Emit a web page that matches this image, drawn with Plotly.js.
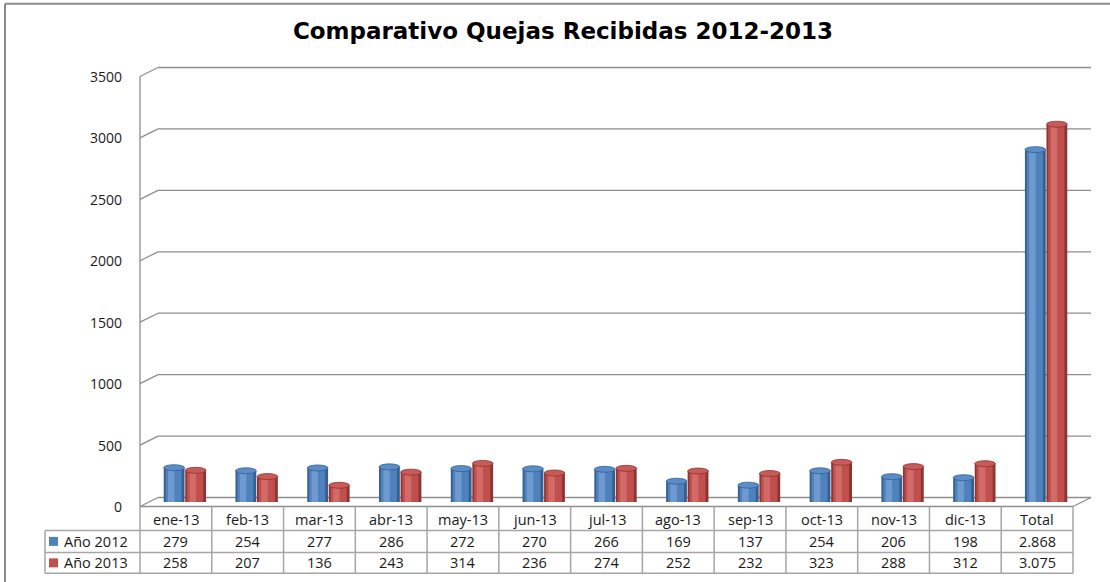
<!DOCTYPE html>
<html>
<head>
<meta charset="utf-8">
<script src="https://cdn.plot.ly/plotly-3.0.1.min.js"></script>
<style>
html,body{margin:0;padding:0;background:#fff;}
#chart{width:1110px;height:582px;}
</style>
</head>
<body>
<div id="chart"></div>
<script>
// ---- data ----
const categories = ["ene-13","feb-13","mar-13","abr-13","may-13","jun-13","jul-13","ago-13","sep-13","oct-13","nov-13","dic-13","Total"];
const seriesNames = ["Año 2012","Año 2013"];
const values2012 = [279,254,277,286,272,270,266,169,137,254,206,198,2868];
const values2013 = [258,207,136,243,314,236,274,252,232,323,288,312,3075];
const yTicks = [0,500,1000,1500,2000,2500,3000,3500];
const titleText = "Comparativo Quejas Recibidas 2012-2013";

// ---- geometry (pixels) ----
const W = 1110, H = 582;
const frontX0 = 140, frontX1 = 1073, front0 = 507, yMax = 3500, plotH = 431;
const dx = 18, dy = 9;
const colW = (frontX1 - frontX0) / categories.length;
const mL = frontX0 + dx/2, mR = W - (frontX1 + dx/2), mT = front0 - dy/2 - plotH, mB = H - (front0 - dy/2);
const areaW = W - mL - mR, areaH = H - mT - mB;
// pixel -> paper (paper is relative to the plot area)
const px = x => (x - mL) / areaW, py = y => (H - mB - y) / areaH;
const yFront = v => front0 - v * plotH / yMax;
const unitsPerPx = yMax / plotH;

const gridColor = "#8e8e8e", tableColor = "#a6a6a6";
const font = "Open Sans, sans-serif";

const colors = [
  {dark:"#355f8f", main:"#4f81bd", light:"#6f9ad0", cap:"#5a8cc8"},
  {dark:"#8e3432", main:"#c0504d", light:"#d26a67", cap:"#c85a57"}
];
const barW = 0.29;
const offsets = [-barW - 0.005, 0.005];
const allVals = [values2012, values2013];

const traces = [];
allVals.forEach((vals, s) => {
  const o = offsets[s];
  traces.push({type:"bar", x:categories, y:vals, name:seriesNames[s], offset:o, width:barW,
    marker:{color:colors[s].dark}, hoverinfo:"x+y+name"});
  traces.push({type:"bar", x:categories, y:vals, name:seriesNames[s], offset:o + 0.025, width:barW - 0.065,
    marker:{color:colors[s].main}, hoverinfo:"skip"});
  traces.push({type:"bar", x:categories, y:vals, name:seriesNames[s], offset:o + 0.06, width:0.09,
    marker:{color:colors[s].light}, hoverinfo:"skip"});
});

const shapes = [];
const line = (x0,y0,x1,y1,c,w,layer) => shapes.push({type:"line", xref:"paper", yref:"paper",
  x0:px(x0), y0:py(y0), x1:px(x1), y1:py(y1), line:{color:c, width:w}, layer:layer || "below"});

// frame
line(5, 3, W + 5, 3, "#8a8a8a", 2);
line(5, 3, 5, H + 5, "#8a8a8a", 2);

// gridlines on back wall with perspective connectors
yTicks.forEach(v => {
  const f = yFront(v), b = f - dy;
  line(frontX0, f, frontX0 + dx, b, gridColor, 1.3);
  line(frontX0 + dx, b, frontX1 + dx, b, gridColor, 1.3);
});
// front axis and floor edges
line(frontX0, yFront(yMax), frontX0, front0, gridColor, 1.3);
line(frontX0, front0, frontX1, front0, gridColor, 1.3);
line(frontX1, front0, frontX1 + dx, front0 - dy, gridColor, 1.3);

// cylinder caps (ellipses at each bar top, placed through the data axes)
const capH = 3 * unitsPerPx;
allVals.forEach((vals, s) => {
  vals.forEach((v, i) => {
    shapes.push({type:"circle", xref:"x", yref:"y", x0:i + offsets[s], x1:i + offsets[s] + barW,
      y0:v - capH, y1:v + capH, fillcolor:colors[s].cap, line:{color:colors[s].dark, width:0.8}, layer:"above"});
  });
});

// table
const rowTop = front0, r1 = 531, r2 = 553, r3 = 574, labelX0 = 45;
for (let i = 0; i <= categories.length; i++) {
  const x = frontX0 + i * colW;
  line(x, rowTop, x, r3, tableColor, 1.5, "above");
}
[r1, r2, r3].forEach(y => line(labelX0, y, frontX1, y, tableColor, 1.5, "above"));
line(labelX0, r1, labelX0, r3, tableColor, 1.5, "above");

const annotations = [];
const fmt = v => String(v).replace(/\B(?=(\d{3})+(?!\d))/g, ".");
const txtFont = {family:font, size:14.5, color:"#1a1a1a"};
const tickFont = {family:font, size:14, color:"#1a1a1a"};

// y-axis tick labels aligned with the front axis
yTicks.forEach(v => annotations.push({xref:"paper", yref:"paper", x:px(124), y:py(yFront(v)), text:String(v),
  showarrow:false, xanchor:"right", yanchor:"middle", font:tickFont}));

categories.forEach((c, i) => {
  const cx = frontX0 + (i + 0.5) * colW;
  annotations.push({xref:"paper", yref:"paper", x:px(cx), y:py((rowTop + r1) / 2 + 1), text:c, showarrow:false,
    xanchor:"center", yanchor:"middle", font:txtFont});
  allVals.forEach((vals, s) => {
    const yc = s === 0 ? (r1 + r2) / 2 : (r2 + r3) / 2;
    annotations.push({xref:"paper", yref:"paper", x:px(cx), y:py(yc), text:fmt(vals[i]), showarrow:false,
      xanchor:"center", yanchor:"middle", font:txtFont});
  });
});
seriesNames.forEach((n, s) => {
  const yc = s === 0 ? (r1 + r2) / 2 : (r2 + r3) / 2;
  shapes.push({type:"rect", xref:"paper", yref:"paper", x0:px(49), x1:px(58), y0:py(yc + 4.5), y1:py(yc - 4.5),
    fillcolor:colors[s].main, line:{width:0}});
  annotations.push({xref:"paper", yref:"paper", x:px(62), y:py(yc), text:n, showarrow:false,
    xanchor:"left", yanchor:"middle", font:txtFont});
});

const layout = {
  width: W, height: H,
  margin: {l: mL, r: mR, t: mT, b: mB, pad: 0},
  paper_bgcolor: "#ffffff", plot_bgcolor: "rgba(0,0,0,0)",
  title: {text: "<b>" + titleText + "</b>", x: 563 / W, xanchor: "center", y: 1 - 31/H, yanchor: "middle",
    font: {family: "DejaVu Sans, sans-serif", size: 23, color: "#000"}},
  barmode: "overlay",
  showlegend: false,
  xaxis: {type: "category", range: [-0.5, categories.length - 0.5], showticklabels: false, showgrid: false,
    zeroline: false, showline: false, ticks: "", fixedrange: true},
  yaxis: {range: [0, yMax], showticklabels: false, showgrid: false, zeroline: false,
    showline: false, ticks: "", fixedrange: true},
  shapes: shapes,
  annotations: annotations
};

Plotly.newPlot("chart", traces, layout, {displayModeBar: false, staticPlot: true});
</script>
</body>
</html>
